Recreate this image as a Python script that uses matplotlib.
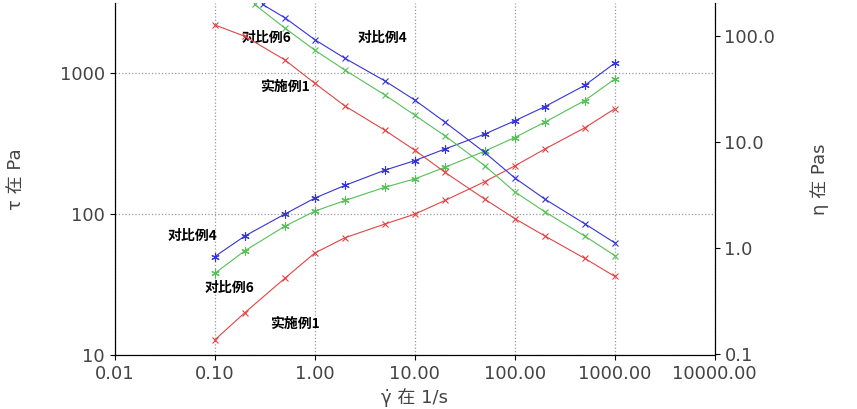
import matplotlib
matplotlib.use("Agg")
import matplotlib.pyplot as plt
from matplotlib import font_manager

names = {f.name for f in font_manager.fontManager.ttflist}
cjk = [n for n in ["Noto Sans CJK SC", "Noto Sans CJK JP", "Noto Sans CJK TC", "Noto Sans CJK KR"] if n in names]
plt.rcParams["font.family"] = ["DejaVu Sans"] + cjk

gamma = [0.1, 0.2, 0.5, 1, 2, 5, 10, 20, 50, 100, 200, 500, 1000]
tau_b4 = [50, 70, 100, 130, 160, 205, 240, 290, 370, 460, 580, 820, 1180]
tau_b6 = [38, 55, 82, 105, 125, 155, 178, 215, 280, 350, 450, 640, 910]
tau_e1 = [12.8, 20, 35, 53, 68, 85, 100, 125, 170, 220, 290, 410, 560]

eta_e1 = [128, 100, 60, 36, 22, 13, 8.4, 5.2, 2.9, 1.9, 1.3, 0.8, 0.54]
gamma_b4 = [0.3, 0.5, 1, 2, 5, 10, 20, 50, 100, 200, 500, 1000]
eta_b4 = [200, 150, 93, 62, 38, 25, 15.5, 8, 4.6, 2.9, 1.7, 1.12]
gamma_b6 = [0.25, 0.5, 1, 2, 5, 10, 20, 50, 100, 200, 500, 1000]
eta_b6 = [200, 120, 74, 48, 28, 18, 11.5, 6, 3.4, 2.2, 1.3, 0.85]

xticks = [0.01, 0.1, 1, 10, 100, 1000, 10000]
xlabels = ["0.01", "0.10", "1.00", "10.00", "100.00", "1000.00", "10000.00"]

blue, green, red = "#3535d5", "#55c055", "#e04545"
ast = (6, 2, 0)

fig = plt.figure(figsize=(8.57, 4.09), dpi=100)
ax = fig.add_axes([0.134, 0.132, 0.700, 0.861])
ax.set_xscale("log"); ax.set_yscale("log")
ax.set_xlim(0.01, 10000); ax.set_ylim(10, 3162)
ax.plot(gamma, tau_b4, color=blue, lw=0.8, marker=ast, ms=6, mew=0.8)
ax.plot(gamma, tau_b6, color=green, lw=0.8, marker=ast, ms=6, mew=0.8)
ax.plot(gamma, tau_e1, color=red, lw=0.8, marker="x", ms=5, mew=0.8)
ax.set_xticks(xticks); ax.set_xticklabels(xlabels)
ax.set_yticks([10, 100, 1000]); ax.set_yticklabels(["10", "100", "1000"])
ax.minorticks_off()
ax.grid(True, ls=":", color="#999999", lw=0.9)
ax.tick_params(labelsize=13, labelcolor="#444444")
ax.set_xlabel("γ̇ 在 1/s", fontsize=13, color="#444444")
ax.set_ylabel("τ 在 Pa", fontsize=13, color="#444444", labelpad=25)
ax.spines["top"].set_visible(False)

ax2 = ax.twinx()
ax2.set_yscale("log"); ax2.set_ylim(0.1 * 10**(-0.01), 207)
ax2.plot(gamma_b4, eta_b4, color=blue, lw=0.8, marker="x", ms=5, mew=0.8)
ax2.plot(gamma_b6, eta_b6, color=green, lw=0.8, marker="x", ms=5, mew=0.8)
ax2.plot(gamma, eta_e1, color=red, lw=0.8, marker="x", ms=5, mew=0.8)
ax2.set_yticks([0.1, 1, 10, 100]); ax2.set_yticklabels(["0.1", "1.0", "10.0", "100.0"])
ax2.minorticks_off()
ax2.tick_params(labelsize=13, labelcolor="#444444")
ax2.set_ylabel("η 在 Pas", fontsize=13, color="#444444", labelpad=25)
ax2.spines["top"].set_visible(False)

kw = dict(fontsize=10, fontweight="bold", family=cjk + ["DejaVu Sans"], ha="center", va="center")
ax.text(0.33, 1780, "对比例6", **kw)
ax.text(4.8, 1780, "对比例4", **kw)
ax.text(0.5, 795, "实施例1", **kw)
ax.text(0.06, 70, "对比例4", **kw)
ax.text(0.14, 30, "对比例6", **kw)
ax.text(0.63, 16.6, "实施例1", **kw)

fig.savefig("out.png", dpi=100)
